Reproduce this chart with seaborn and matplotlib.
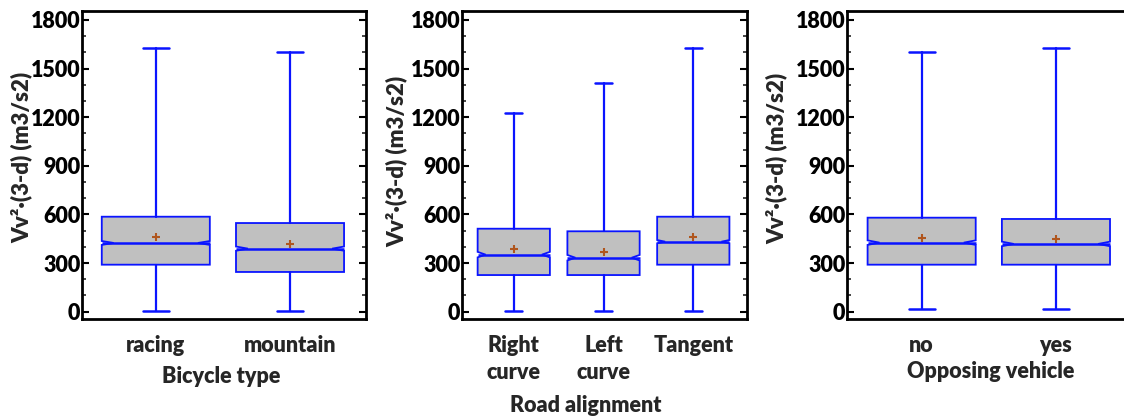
import numpy as np
import matplotlib
matplotlib.use("Agg")
import matplotlib.pyplot as plt
from matplotlib.ticker import MultipleLocator
import seaborn as sns

# ---- summary statistics per group (m3/s2) ----
bike_cats = ["racing", "mountain"]
bike_q1 = [290, 245]
bike_med = [424, 389]
bike_q3 = [586, 547]
bike_lo = [6, 6]
bike_hi = [1627, 1602]
bike_mean = [459, 416]
bike_ci = [12, 13]

road_cats = ["Right\ncurve", "Left\ncurve", "Tangent"]
road_q1 = [226, 226, 290]
road_med = [352, 333, 432]
road_q3 = [512, 496, 586]
road_lo = [6, 6, 6]
road_hi = [1226, 1413, 1627]
road_mean = [389, 366, 459]
road_ci = [17, 17, 10]

opp_cats = ["no", "yes"]
opp_q1 = [290, 290]
opp_med = [426, 418]
opp_q3 = [580, 572]
opp_lo = [15, 19]
opp_hi = [1602, 1627]
opp_mean = [455, 449]
opp_ci = [14, 14]

y_ticks = [0, 300, 600, 900, 1200, 1500, 1800]
y_label = "Vv²·(3-d) (m3/s2)"

sns.set_theme(style="white")
plt.rcParams["font.family"] = ["Lato", "DejaVu Sans"]
WEIGHT = "heavy"
plt.rcParams["font.weight"] = WEIGHT

BLUE = "#0a14ff"
GREY = "#c0c0c0"
BROWN = "#b0561e"
FS = 15.5

fig = plt.figure(figsize=(11.24, 4.17), dpi=100)
W, H = 1124, 417


def px_axes(left, right, top=10.7, bottom=319.3):
    return fig.add_axes([left / W, 1 - bottom / H, (right - left) / W, (bottom - top) / H])


panels = [
    dict(ax=px_axes(81.7, 366.0), cats=bike_cats, q1=bike_q1, med=bike_med, q3=bike_q3,
         lo=bike_lo, hi=bike_hi, mean=bike_mean, ci=bike_ci, xlabel="Bicycle type",
         xlim=(-0.552, 1.566), ylab_x=-0.211, ylab_y=0.524, xlab_x=0.49, xlab_y=-0.185),
    dict(ax=px_axes(461.7, 746.7), cats=road_cats, q1=road_q1, med=road_med, q3=road_q3,
         lo=road_lo, hi=road_hi, mean=road_mean, ci=road_ci, xlabel="Road alignment",
         xlim=(-0.58, 2.595), ylab_x=-0.228, ylab_y=0.513, xlab_x=0.436, xlab_y=-0.278),
    dict(ax=px_axes(846.7, 1131.7), cats=opp_cats, q1=opp_q1, med=opp_med, q3=opp_q3,
         lo=opp_lo, hi=opp_hi, mean=opp_mean, ci=opp_ci, xlabel="Opposing vehicle",
         xlim=(-0.558, 1.564), ylab_x=-0.246, ylab_y=0.522, xlab_x=0.505, xlab_y=-0.17),
]

for p in panels:
    ax = p["ax"]
    n = len(p["cats"])
    stats = []
    for i in range(n):
        stats.append(dict(
            label=p["cats"][i], med=p["med"][i], q1=p["q1"][i], q3=p["q3"][i],
            whislo=p["lo"][i], whishi=p["hi"][i], mean=p["mean"][i],
            cilo=p["med"][i] - p["ci"][i], cihi=p["med"][i] + p["ci"][i], fliers=[],
        ))
    width = 0.805
    pos = np.arange(n)
    art = ax.bxp(
        stats, positions=pos, widths=width, capwidths=width * 0.24,
        shownotches=True, showmeans=True, showfliers=False, patch_artist=True,
        boxprops=dict(facecolor=GREY, edgecolor=BLUE, linewidth=1.3),
        whiskerprops=dict(color=BLUE, linewidth=1.6),
        capprops=dict(color=BLUE, linewidth=1.8),
        medianprops=dict(color=BLUE, linewidth=1.8),
        meanprops=dict(marker="+", markeredgecolor=BROWN, markersize=6, markeredgewidth=1.5),
    )
    # shallower notch and a median line spanning the whole box
    for box, med in zip(art["boxes"], art["medians"]):
        verts = box.get_path().vertices
        left, right = verts[0, 0], verts[1, 0]
        depth = (right - left) * 0.11
        verts[3, 0] = right - depth
        verts[8, 0] = left + depth
        med.set_xdata([left, right])

    ax.set_xlim(*p["xlim"])
    ax.set_ylim(-47, 1857)
    ax.set_xticks(pos)
    ax.set_xticklabels(p["cats"], fontsize=FS, fontweight=WEIGHT, linespacing=1.35)
    ax.yaxis.set_minor_locator(MultipleLocator(100))
    ax.set_yticks(y_ticks)
    ax.set_yticklabels([str(t) for t in y_ticks], fontsize=FS, fontweight=WEIGHT)
    ax.tick_params(axis="y", which="major", direction="in", left=True, right=True,
                   length=5, width=1.5, pad=1, colors="black")
    ax.tick_params(axis="y", which="minor", direction="in", left=True, right=True,
                   length=3, width=1.2)
    ax.tick_params(axis="x", which="both", bottom=False, top=False, pad=5)
    for s in ax.spines.values():
        s.set_visible(True)
        s.set_color("black")
        s.set_linewidth(2)

    ax.set_ylabel(y_label, fontsize=16, fontweight=WEIGHT)
    ax.yaxis.label.set_va("center")
    ax.yaxis.set_label_coords(p["ylab_x"], p["ylab_y"])
    ax.set_xlabel(p["xlabel"], fontsize=FS, fontweight=WEIGHT)
    ax.xaxis.label.set_va("center")
    ax.xaxis.set_label_coords(p["xlab_x"], p["xlab_y"])

fig.savefig("out.png", dpi=100)
